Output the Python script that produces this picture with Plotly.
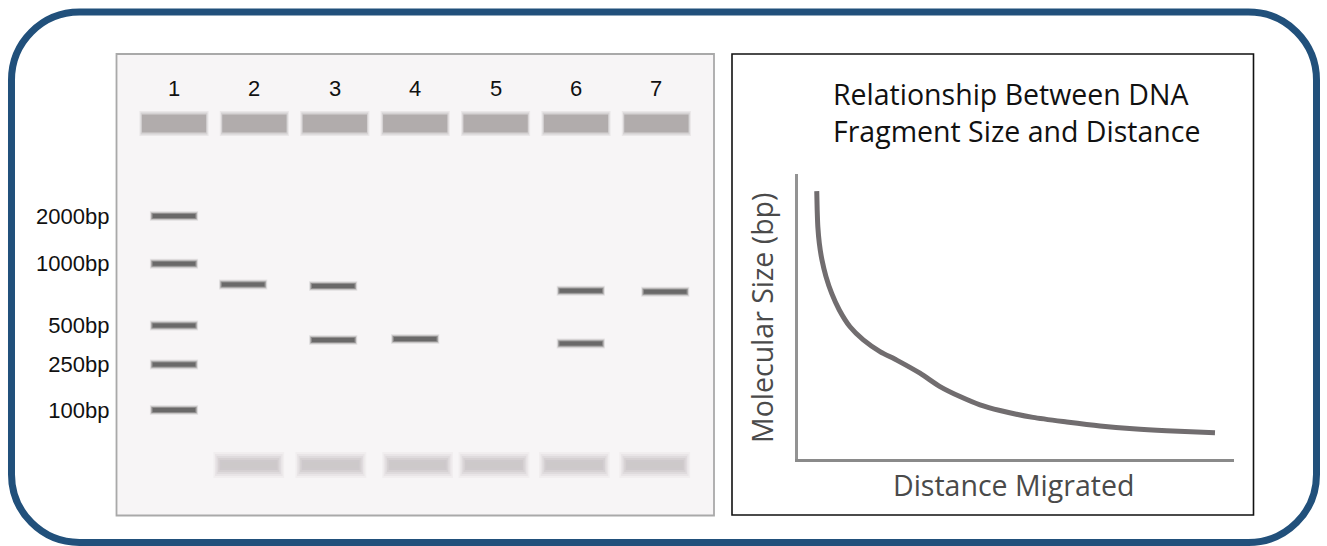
import plotly.graph_objects as go

W, H = 1327, 546

# ---------------- data ----------------
lane_labels = ["1", "2", "3", "4", "5", "6", "7"]
lanes = [1, 2, 3, 4, 5, 6, 7]

ladder_labels = ["2000bp", "1000bp", "500bp", "250bp", "100bp"]
ladder_dist = [92.5, 140.2, 202.1, 241.1, 286.5]          # migration distance from wells
ladder_lane = [1.0, 1.0, 1.0, 1.0, 1.0]

sample_band_lane = [1.86, 2.98, 2.98, 4.0, 6.06, 6.06, 7.11]   # lane position of each band
sample_band_dist = [161.1, 162.5, 216.5, 215.5, 167.2, 220.0, 168.2]

well_dist = [0, 0, 0, 0, 0, 0, 0]
dye_lanes = [1.93, 2.95, 4.03, 4.98, 5.98, 6.98]
dye_dist = [341.5, 341.5, 341.5, 341.5, 341.5, 341.5]

# relationship curve (relative units)
distance_migrated = [4.3, 4.4, 4.55, 4.89, 5.50, 6.42, 7.73, 9.47, 11.93, 14.98, 18.81,
                     22.64, 27.98, 32.57, 37.16, 41.74, 46.33, 53.90, 61.63, 69.27, 76.83,
                     84.56, 95.64]
molecular_size = [94.0, 87.4, 81.5, 75.7, 69.8, 64.0, 58.1, 52.3, 46.4, 41.8, 37.7,
                  34.7, 30.1, 25.4, 21.9, 19.0, 17.0, 14.6, 13.0, 11.6, 10.6,
                  9.9, 9.2]

# ---------------- helpers ----------------
def px(x):
    return x / W

def py(y):
    return 1 - y / H

def segs(xs, ys, half):
    X, Y = [], []
    for x, y in zip(xs, ys):
        X += [x - half, x + half, None]
        Y += [y, y, None]
    return X, Y

fig = go.Figure()

def add_layers(xs, ys, layers):
    for wdt, col, half in layers:
        X, Y = segs(xs, ys, half)
        fig.add_trace(go.Scatter(x=X, y=Y, mode="lines", line=dict(color=col, width=wdt),
                                 hoverinfo="skip", showlegend=False, xaxis="x", yaxis="y"))

# wells
add_layers(lanes, well_dist, [
    (25, "rgba(176,171,171,0.18)", 0.43),
    (22, "rgba(176,171,171,0.35)", 0.415),
    (18, "#b1acac", 0.40),
])

# dye front (blurry)
add_layers(dye_lanes, dye_dist, [
    (26, "rgba(205,201,203,0.15)", 0.44),
    (22, "rgba(205,201,203,0.22)", 0.42),
    (18, "rgba(205,201,203,0.35)", 0.40),
    (14, "rgba(205,201,203,0.55)", 0.38),
    (10, "rgba(204,200,202,0.85)", 0.36),
    (6, "#cdc9ca", 0.34),
])

# DNA bands (ladder + samples)
band_x = ladder_lane + sample_band_lane
band_y = ladder_dist + sample_band_dist
add_layers(band_x, band_y, [
    (10, "rgba(110,108,108,0.12)", 0.30),
    (8, "rgba(110,108,108,0.25)", 0.29),
    (6, "rgba(108,106,106,0.6)", 0.28),
    (4, "#6a6969", 0.265),
])

# relationship curve
fig.add_trace(go.Scatter(x=distance_migrated, y=molecular_size, mode="lines",
                         line=dict(color="#716d6f", width=5, shape="spline", smoothing=0.7),
                         hoverinfo="skip", showlegend=False, xaxis="x2", yaxis="y2"))

# ---------------- layout ----------------
gel_x0, gel_x1, gel_y0, gel_y1 = 116.5, 714, 54, 515.5
lane_px0 = 174
lane_step = 80.4
well_y = 123.5

fig.update_layout(
    width=W, height=H,
    margin=dict(l=0, r=0, t=0, b=0),
    paper_bgcolor="white", plot_bgcolor="rgba(0,0,0,0)",
    xaxis=dict(domain=[px(gel_x0), px(gel_x1)],
               range=[1 + (gel_x0 - lane_px0) / lane_step, 1 + (gel_x1 - lane_px0) / lane_step],
               showgrid=False, zeroline=False, showline=False, showticklabels=False,
               ticks="", fixedrange=True, automargin=False),
    yaxis=dict(domain=[py(gel_y1), py(gel_y0)],
               range=[gel_y1 - well_y, gel_y0 - well_y],
               showgrid=False, zeroline=False, showline=False,
               tickvals=ladder_dist, ticktext=ladder_labels, ticks="",
               ticklabelstandoff=6,
               tickfont=dict(family="Liberation Sans, Arial", size=22, color="#111111"),
               fixedrange=True, automargin=False),
    xaxis2=dict(domain=[px(798), px(1234)], range=[0, 100], anchor="y2",
                showgrid=False, zeroline=False, showline=True, linecolor="#8a8a8a",
                linewidth=2.5, showticklabels=False, ticks="", fixedrange=True,
                automargin=False),
    yaxis2=dict(domain=[py(459), py(174)], range=[0, 100], anchor="x2",
                showgrid=False, zeroline=False, showline=True, linecolor="#939393",
                linewidth=2.5, showticklabels=False, ticks="", fixedrange=True,
                automargin=False),
)

shapes = []
# gel panel background
shapes.append(dict(type="rect", xref="paper", yref="paper",
                   x0=px(gel_x0), x1=px(gel_x1), y0=py(gel_y1), y1=py(gel_y0),
                   fillcolor="#f7f5f6", line=dict(color="#a9a9a9", width=1.8), layer="below"))
# right panel box
shapes.append(dict(type="rect", xref="paper", yref="paper",
                   x0=px(732), x1=px(1253.5), y0=py(515), y1=py(54),
                   fillcolor="white", line=dict(color="#111111", width=1.6), layer="below"))

# outer rounded frame
x0, y0, x1, y1, r = 11.5, 12, 1316.5, 542.5, 68
k = 0.5523 * r
def P(x, y):
    return f"{px(x):.6f},{py(y):.6f}"
path = (f"M {P(x0 + r, y0)} L {P(x1 - r, y0)} "
        f"C {P(x1 - r + k, y0)} {P(x1, y0 + r - k)} {P(x1, y0 + r)} "
        f"L {P(x1, y1 - r)} "
        f"C {P(x1, y1 - r + k)} {P(x1 - r + k, y1)} {P(x1 - r, y1)} "
        f"L {P(x0 + r, y1)} "
        f"C {P(x0 + r - k, y1)} {P(x0, y1 - r + k)} {P(x0, y1 - r)} "
        f"L {P(x0, y0 + r)} "
        f"C {P(x0, y0 + r - k)} {P(x0 + r - k, y0)} {P(x0 + r, y0)} Z")
shapes.append(dict(type="path", xref="paper", yref="paper", path=path,
                   line=dict(color="#21507b", width=7), fillcolor="rgba(0,0,0,0)",
                   layer="above"))
fig.update_layout(shapes=shapes)

annotations = []
# lane numbers
for lane, lab in zip(lanes, lane_labels):
    annotations.append(dict(x=lane, y=-35.5, xref="x", yref="y", text=lab, showarrow=False,
                            font=dict(family="Liberation Sans, Arial", size=22, color="#111111"),
                            xanchor="center", yanchor="middle"))
# title of right panel
title_font = dict(family="Open Sans, Noto Sans", size=28.5, color="#111111")
annotations.append(dict(x=px(831), y=py(94), xref="paper", yref="paper",
                        text="Relationship Between DNA", showarrow=False, font=title_font,
                        xanchor="left", yanchor="middle"))
annotations.append(dict(x=px(831), y=py(131), xref="paper", yref="paper",
                        text="Fragment Size and Distance", showarrow=False, font=title_font,
                        xanchor="left", yanchor="middle"))
label_font = dict(family="Open Sans, Noto Sans", size=28.5, color="#4a4a4a")
annotations.append(dict(x=px(1013), y=py(485), xref="paper", yref="paper",
                        text="Distance Migrated", showarrow=False, font=label_font,
                        xanchor="center", yanchor="middle"))
annotations.append(dict(x=px(762), y=py(318), xref="paper", yref="paper",
                        text="Molecular Size (bp)", showarrow=False, font=label_font,
                        textangle=-90, xanchor="center", yanchor="middle"))
fig.update_layout(annotations=annotations)

fig.write_html("out.html", config={"displayModeBar": False, "responsive": False},
               post_script="document.body.style.margin='0';document.body.style.overflow='hidden';")
